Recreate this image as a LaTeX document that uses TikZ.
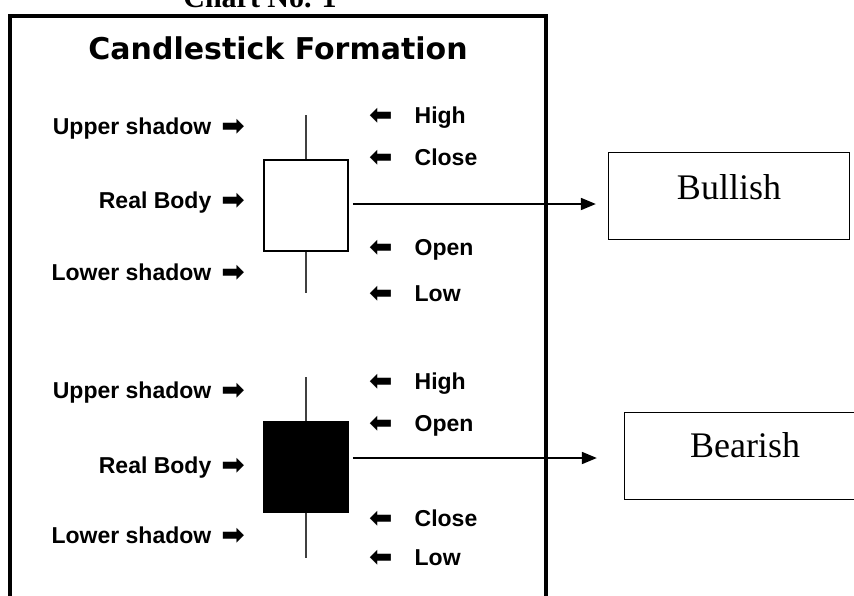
\documentclass[tikz,border=0pt]{standalone}
\usepackage{fontspec}
\setmainfont{Liberation Serif}
\newfontfamily\lblfont{Liberation Sans}
\newfontfamily\headfont{DejaVu Sans}
\newcommand\rarr{\raisebox{-1pt}{\headfont\fontsize{28}{30}\selectfont ➡}}
\newcommand\larr{\raisebox{-1pt}{\headfont\fontsize{28}{30}\selectfont ⬅}}
\usetikzlibrary{arrows.meta}

\begin{document}
\begin{tikzpicture}[
  x=1pt, y=-1pt,
  frame_line/.style={
    line width=4.5pt
  },
  candle_body/.style={
    draw, line width=1.6pt, inner sep=0pt, minimum width=84pt
  },
  wick/.style={
    line width=1.8pt, draw=black!75
  },
  left_label/.style={
    anchor=base east, inner sep=0pt,
    font=\lblfont\bfseries\fontsize{23}{27}\selectfont
  },
  right_label/.style={
    anchor=base west, inner sep=0pt,
    font=\lblfont\bfseries\fontsize{23}{27}\selectfont
  },
  trend_box/.style={
    draw, line width=1.3pt, minimum width=241pt, minimum height=87pt,
    font=\fontsize{36}{40}\selectfont
  },
  link/.style={
    line width=1.8pt, -{Triangle[length=15pt,width=12pt]}, shorten <=4pt
  }]
  %
  \useasboundingbox (0,0) rectangle (854,595);
  \clip (0,0) rectangle (854,595);
  \node[anchor=base, font=\bfseries\fontsize{30}{34}\selectfont] (chart_no) at (260,7) {Chart No. 1};
  \draw[frame_line] (10,610) -- (10,16) -- (546,16) -- (546,610);
  \node[anchor=base, font=\headfont\bfseries\fontsize{30}{34}\selectfont] (head) at (278,59) {Candlestick Formation};
  %
  % bullish candle
  \node[candle_body, minimum height=91pt] (bull_body) at (306,205.5) {};
  \coordinate (bull_high) at (306,115);
  \coordinate (bull_low) at (306,293);
  \draw[wick] (bull_body.north) -- (bull_high);
  \draw[wick] (bull_body.south) -- (bull_low);
  \foreach \txt/\yy [count=\i] in {Upper shadow/134, Real Body/208, Lower shadow/280} {
    \node[left_label] (bull_left_\i) at (245,\yy) {\txt\hspace{10pt}\rarr};
  }
  \foreach \txt/\yy [count=\i] in {High/123, Close/165, Open/255, Low/301} {
    \node[right_label] (bull_right_\i) at (369,\yy) {\larr\hspace{22pt}\txt};
  }
  \node[trend_box, text depth=18.5pt] (bull_box) at (729,196) {Bullish};
  \draw[link, shorten >=12pt] ([yshift=1.5pt]bull_body.east) -- ([yshift=1.5pt]bull_body.east -| bull_box.west);
  %
  % bearish candle
  \node[candle_body, fill=black, minimum height=90pt] (bear_body) at (306,467) {};
  \coordinate (bear_high) at (306,377);
  \coordinate (bear_low) at (306,558);
  \draw[wick] (bear_body.north) -- (bear_high);
  \draw[wick] (bear_body.south) -- (bear_low);
  \foreach \txt/\yy [count=\i] in {Upper shadow/398, Real Body/473, Lower shadow/543} {
    \node[left_label] (bear_left_\i) at (245,\yy) {\txt\hspace{10pt}\rarr};
  }
  \foreach \txt/\yy [count=\i] in {High/389, Open/431, Close/526, Low/565} {
    \node[right_label] (bear_right_\i) at (369,\yy) {\larr\hspace{22pt}\txt};
  }
  \node[trend_box, text depth=22.5pt] (bear_box) at (745,456) {Bearish};
  \draw[link, shorten >=27pt] ([yshift=9pt]bear_body.east) -- ([yshift=9pt]bear_body.east -| bear_box.west);
\end{tikzpicture}
\end{document}
